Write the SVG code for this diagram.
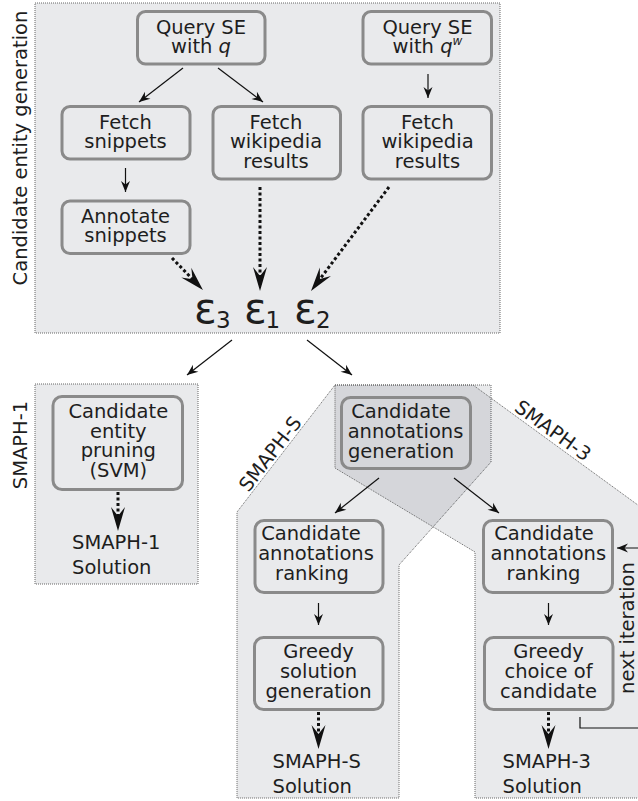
<svg xmlns="http://www.w3.org/2000/svg" width="638" height="801" viewBox="0 0 638 801">
<style>
.t{font-family:"DejaVu Sans","Liberation Sans",sans-serif;font-size:19.5px;fill:#1e1e1e;text-anchor:middle}
.ts{font-family:"DejaVu Sans","Liberation Sans",sans-serif;font-size:19.5px;fill:#1e1e1e;text-anchor:start}
.eps{font-family:"DejaVu Sans","Liberation Sans",sans-serif;font-size:42px;fill:#1e1e1e}
.sub{font-family:"DejaVu Sans","Liberation Sans",sans-serif;font-size:23px;fill:#1e1e1e}
.nb{fill:none;stroke:#8a8a8a;stroke-width:3}
.area{fill:#e9eaec;stroke:#666;stroke-width:1;stroke-dasharray:1 1}
.poly{fill:#10162a;fill-opacity:0.09;stroke:#666;stroke-width:1;stroke-dasharray:1 1}
.ln{fill:none;stroke:#111;stroke-width:1.2;marker-end:url(#ah)}
.dl{fill:none;stroke:#111;stroke-width:3;stroke-dasharray:3 2.5;marker-end:url(#ahb)}
</style>
<defs>
<marker id="ah" markerUnits="userSpaceOnUse" viewBox="-12 -6 13 12" refX="0" refY="0" markerWidth="13" markerHeight="12" orient="auto">
<path d="M0,0 L-11,-4.5 L-7.5,0 L-11,4.5 Z" fill="#111"/>
</marker>
<marker id="ahb" markerUnits="userSpaceOnUse" viewBox="-26 -9 27 18" refX="-10" refY="0" markerWidth="27" markerHeight="18" orient="auto">
<path d="M0,0 L-24,-7 L-15,0 L-24,7 Z" fill="#111"/>
</marker>
</defs>

<g id="areas">
<rect class="area" x="35" y="3" width="465" height="330"/>
<rect class="area" x="35" y="384" width="163" height="200"/>
<polygon id="smaph-s-area" class="poly" points="335,385 491,385 491,462 399,565 399,798 237,798 237,512"/>
<polygon id="smaph-3-area" class="poly" points="335,385 473,385 642,508 642,798 475,798 475,552 335,468"/>
</g>

<g id="labels">
<text class="t" transform="translate(27,148) rotate(-90)">Candidate entity generation</text>
<text class="t" transform="translate(27,445) rotate(-90)">SMAPH-1</text>
<text class="t" transform="translate(275.5,458) rotate(-52.3)">SMAPH-S</text>
<text class="t" transform="translate(549,436) rotate(36)">SMAPH-3</text>
<text class="t" transform="translate(634,628) rotate(-90)">next iteration</text>
</g>

<g id="n-query-q">
<rect class="nb" x="137.5" y="11.5" width="127.5" height="52.5" rx="8"/>
<text class="t" x="201" y="33.5">Query SE</text>
<text class="t" x="201" y="53">with <tspan font-style="italic">q</tspan></text>
</g>
<g id="n-query-qw">
<rect class="nb" x="363" y="11.5" width="128.5" height="52.5" rx="8"/>
<text class="t" x="427.5" y="33.5">Query SE</text>
<text class="t" x="427.5" y="53">with <tspan font-style="italic">q</tspan><tspan font-style="italic" font-size="12" dy="-8">w</tspan></text>
</g>
<g id="n-fetch-snippets">
<rect class="nb" x="62" y="106.5" width="128" height="52.5" rx="8"/>
<text class="t" x="125.5" y="128.5">Fetch</text>
<text class="t" x="125.5" y="148">snippets</text>
</g>
<g id="n-fetch-wiki-1">
<rect class="nb" x="213" y="106.5" width="127.5" height="72.5" rx="8"/>
<text class="t" x="276" y="128.5">Fetch</text>
<text class="t" x="276" y="148">wikipedia</text>
<text class="t" x="276" y="167.5">results</text>
</g>
<g id="n-fetch-wiki-2">
<rect class="nb" x="363" y="106.5" width="128.5" height="72.5" rx="8"/>
<text class="t" x="427.5" y="128.5">Fetch</text>
<text class="t" x="427.5" y="148">wikipedia</text>
<text class="t" x="427.5" y="167.5">results</text>
</g>
<g id="n-annotate">
<rect class="nb" x="62" y="201" width="128" height="52.5" rx="8"/>
<text class="t" x="125.5" y="222.5">Annotate</text>
<text class="t" x="125.5" y="242">snippets</text>
</g>
<g id="n-epsilons">
<text class="eps" x="194" y="323">ε</text><text class="sub" x="216" y="328">3</text>
<text class="eps" x="244" y="323">ε</text><text class="sub" x="265.5" y="328">1</text>
<text class="eps" x="294" y="323">ε</text><text class="sub" x="316" y="328">2</text>
</g>
<g id="n-pruning">
<rect class="nb" x="53" y="396.5" width="129.5" height="93" rx="9"/>
<text class="t" x="118.3" y="418.3">Candidate</text>
<text class="t" x="118.3" y="437.8">entity</text>
<text class="t" x="118.3" y="457.3">pruning</text>
<text class="t" x="118.3" y="476.8">(SVM)</text>
</g>
<g id="n-smaph1-solution">
<text class="ts" x="72" y="549">SMAPH-1</text>
<text class="ts" x="72" y="574">Solution</text>
</g>
<g id="n-cand-gen">
<rect class="nb" x="341.5" y="397.5" width="129" height="71" rx="9"/>
<text class="t" x="401" y="418">Candidate</text>
<text class="t" x="405.5" y="438">annotations</text>
<text class="t" x="401" y="457.5">generation</text>
</g>
<g id="n-rank-s">
<rect class="nb" x="255" y="520.5" width="128" height="72" rx="9"/>
<text class="t" x="311" y="540">Candidate</text>
<text class="t" x="316" y="560">annotations</text>
<text class="t" x="312" y="580">ranking</text>
</g>
<g id="n-rank-3">
<rect class="nb" x="483.5" y="520.5" width="129" height="72" rx="9"/>
<text class="t" x="544" y="540">Candidate</text>
<text class="t" x="548.3" y="560">annotations</text>
<text class="t" x="543.5" y="580">ranking</text>
</g>
<g id="n-greedy-s">
<rect class="nb" x="254.5" y="637.5" width="128.5" height="72" rx="9"/>
<text class="t" x="318.5" y="658">Greedy</text>
<text class="t" x="318.5" y="678">solution</text>
<text class="t" x="318.5" y="697.5">generation</text>
</g>
<g id="n-greedy-3">
<rect class="nb" x="484.5" y="637.5" width="128.5" height="72" rx="9"/>
<text class="t" x="548.5" y="658">Greedy</text>
<text class="t" x="548.5" y="678">choice of</text>
<text class="t" x="548.5" y="697.5">candidate</text>
</g>
<g id="n-smaphs-solution">
<text class="ts" x="272.5" y="768">SMAPH-S</text>
<text class="ts" x="272.5" y="793">Solution</text>
</g>
<g id="n-smaph3-solution">
<text class="ts" x="502.5" y="768">SMAPH-3</text>
<text class="ts" x="502.5" y="793">Solution</text>
</g>

<g id="connectors">
<line class="ln" x1="183" y1="68" x2="139" y2="102"/>
<line class="ln" x1="218" y1="68" x2="263" y2="102"/>
<line class="ln" x1="125.5" y1="168" x2="125.5" y2="192"/>
<line class="ln" x1="428" y1="74" x2="428" y2="98"/>
<line class="dl" x1="172" y1="258" x2="196" y2="282.8"/>
<line class="dl" x1="260" y1="187" x2="260" y2="281"/>
<line class="dl" x1="389" y1="187" x2="317" y2="283"/>
<line class="ln" x1="232" y1="340" x2="187" y2="375"/>
<line class="ln" x1="307" y1="340" x2="352" y2="375"/>
<line class="dl" x1="118" y1="492" x2="118" y2="521"/>
<line class="ln" x1="379" y1="478" x2="335" y2="513"/>
<line class="ln" x1="454" y1="478" x2="499" y2="513"/>
<line class="ln" x1="318.5" y1="603" x2="318.5" y2="625"/>
<line class="ln" x1="548.5" y1="603" x2="548.5" y2="625"/>
<line class="dl" x1="318.5" y1="712" x2="318.5" y2="739"/>
<line class="dl" x1="548.5" y1="712" x2="548.5" y2="739"/>
<path class="ln" d="M580,717 V728 H650 V548 H617"/>
</g>
</svg>
